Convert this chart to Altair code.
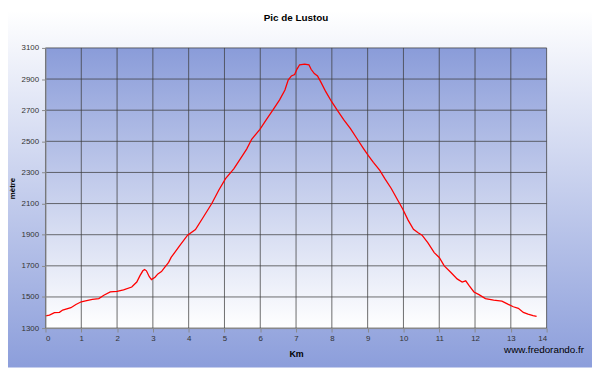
import altair as alt
import pandas as pd

# Profile data (km, altitude in metres)
km = [0.00, 0.11, 0.25, 0.39, 0.48, 0.71, 0.85, 1.00, 1.12, 1.31, 1.49, 1.63, 1.81, 2.00,
      2.18, 2.41, 2.55, 2.64, 2.72, 2.77, 2.82, 2.90, 2.96, 3.06, 3.14, 3.24, 3.33, 3.44,
      3.51, 3.74, 3.97, 4.19, 4.42, 4.65, 4.84, 5.03, 5.26, 5.53, 5.62, 5.76, 5.99, 6.17,
      6.36, 6.54, 6.69, 6.78, 6.87, 6.96, 7.03, 7.10, 7.24, 7.36, 7.42, 7.51, 7.60, 7.69,
      7.83, 7.99, 8.15, 8.33, 8.52, 8.70, 8.88, 9.02, 9.16, 9.34, 9.48, 9.66, 9.85, 9.98,
      10.13, 10.28, 10.41, 10.52, 10.68, 10.86, 11.00, 11.14, 11.32, 11.50, 11.64, 11.74,
      11.83, 11.97, 12.11, 12.29, 12.52, 12.75, 12.93, 13.07, 13.21, 13.35, 13.48, 13.62, 13.72]
metres = [1378, 1384, 1399, 1401, 1416, 1431, 1452, 1469, 1475, 1484, 1490, 1511, 1532, 1536,
          1545, 1564, 1596, 1637, 1668, 1676, 1668, 1630, 1612, 1627, 1648, 1663, 1690, 1722,
          1754, 1827, 1897, 1933, 2017, 2102, 2186, 2260, 2323, 2418, 2450, 2513, 2577, 2640,
          2703, 2766, 2830, 2893, 2920, 2929, 2966, 2992, 2996, 2992, 2963, 2935, 2920, 2882,
          2819, 2756, 2700, 2640, 2582, 2518, 2455, 2408, 2365, 2313, 2260, 2197, 2118, 2065,
          1994, 1935, 1912, 1897, 1849, 1785, 1754, 1700, 1659, 1616, 1596, 1604,
          1574, 1532, 1515, 1490, 1479, 1473, 1452, 1437, 1427, 1401, 1390, 1380, 1375]

km_ticks = list(range(0, 15))
alt_ticks = [1300, 1500, 1700, 1900, 2100, 2300, 2500, 2700, 2900, 3100]

title_text = "Pic de Lustou"
x_title = "Km"
y_title = "mètre"
watermark = "www.fredorando.fr"

W, H = 508, 284
FONT = "Liberation Sans"

profile = pd.DataFrame({"km": km, "m": metres})
vgrid = pd.DataFrame({"km": km_ticks})
hgrid = pd.DataFrame({"m": alt_ticks})
one = pd.DataFrame({"a": [0]})

xscale = alt.Scale(domain=[0, 14], nice=False, zero=False)
yscale = alt.Scale(domain=[1300, 3100], nice=False, zero=False)

xaxis = alt.Axis(values=km_ticks, format="d", grid=False, tickSize=4, labelPadding=3,
                 labelFontSize=8, labelFont=FONT, labelColor="#333333",
                 domainColor="#8a8a8a", tickColor="#8a8a8a", zindex=1,
                 title=x_title, titleFont=FONT, titleFontSize=9, titleFontWeight="bold",
                 titleColor="#000000", titleX=W / 2, titleY=26, titleBaseline="middle")
yaxis = alt.Axis(values=alt_ticks, format="d", grid=False, tickSize=4, labelPadding=3,
                 labelFontSize=8, labelFont=FONT, labelColor="#333333",
                 domainColor="#8a8a8a", tickColor="#8a8a8a", zindex=1,
                 title=y_title, titleFont=FONT, titleFontSize=8, titleFontWeight="bold",
                 titleColor="#000000", titleAngle=270, titleX=-33, titleY=H / 2,
                 titleAlign="center", titleBaseline="middle")

X = alt.X("km:Q", scale=xscale, axis=xaxis)
Y = alt.Y("m:Q", scale=yscale, axis=yaxis)

outer_bg = alt.Chart(one).mark_rect(
    color=alt.LinearGradient(gradient="linear", x1=0, x2=0, y1=0, y2=1,
                             stops=[alt.GradientStop(color="#ffffff", offset=0),
                                    alt.GradientStop(color="#8c9edb", offset=1)])
).encode(x=alt.value(-38), x2=alt.value(W + 46), y=alt.value(-38), y2=alt.value(H + 40))

plot_bg = alt.Chart(one).mark_rect(
    color=alt.LinearGradient(gradient="linear", x1=0, x2=0, y1=0, y2=1,
                             stops=[alt.GradientStop(color="#8a9cd9", offset=0),
                                    alt.GradientStop(color="#ffffff", offset=1)])
).encode(x=alt.value(0), x2=alt.value(W), y=alt.value(0), y2=alt.value(H))

vrules = alt.Chart(vgrid).mark_rule(color="#3c3c3c", strokeWidth=1, opacity=0.75).encode(
    x=X, y=alt.value(0), y2=alt.value(H))
hrules = alt.Chart(hgrid).mark_rule(color="#3c3c3c", strokeWidth=1, opacity=0.75).encode(
    y=Y, x=alt.value(0), x2=alt.value(W))

line = alt.Chart(profile).mark_line(color="#ff0000", strokeWidth=1.3).encode(
    x=X, y=Y, order="km:Q")

wm = alt.Chart(one).mark_text(text=watermark, font=FONT, fontSize=10, align="right",
                              baseline="middle", color="#000000").encode(
    x=alt.value(W + 38), y=alt.value(H + 22))

chart = alt.layer(outer_bg, plot_bg, vrules, hrules, line, wm).properties(
    width=W, height=H,
    title=alt.TitleParams(text=title_text, font=FONT, fontSize=10, fontWeight="bold",
                          color="#000000", anchor="middle", baseline="middle", offset=-18),
    autosize=alt.AutoSizeParams(type="none"),
    padding={"left": 38, "top": 38, "right": 46, "bottom": 40},
).configure_view(stroke=None).configure(background="#ffffff")

chart.save("out.html", embed_options={"renderer": "svg", "actions": False})
